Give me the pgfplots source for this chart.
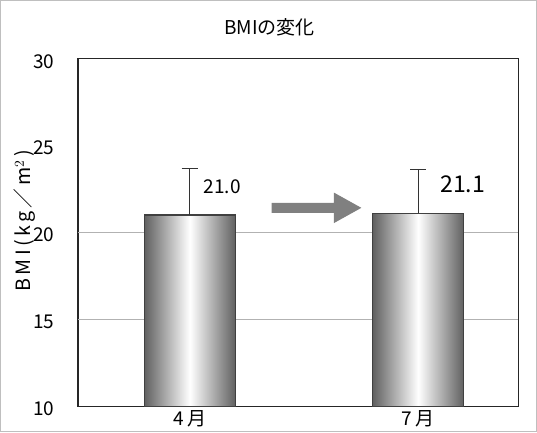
\documentclass[border=0pt]{standalone}
\usepackage{fontspec}
\setmainfont{Noto Sans CJK JP}
\usepackage{pgfplots}
\pgfplotsset{compat=1.18}
\begin{document}
\begin{tikzpicture}[x=0.75pt,y=0.75pt]
\draw[draw=gray!50, line width=0.8pt] (6,6) rectangle (532,429);
\begin{axis}[
  at={(61.5pt,23.25pt)}, anchor=south west,
  scale only axis, width=324pt, height=255.75pt,
  xmin=-0.49, xmax=1.4375, ymin=10, ymax=30,
  xtick={0,1}, xticklabels={4\,月,7\,月},
  ytick={10,15,20,25,30},
  major tick length=0pt,
  axis line style={draw=black!85, line width=0.8pt},
  /pgf/number format/assume math mode=true,
  tick label style={font=\fontsize{14}{16}\selectfont, text=black},
  yticklabel style={xshift=-14pt, yshift=-2pt},
  xticklabel style={yshift=0pt},
  clip=false,
]
\addplot[draw=gray!60, line width=0.6pt, forget plot] coordinates {(-0.49,15) (1.4375,15)};
\addplot[draw=gray!60, line width=0.6pt, forget plot] coordinates {(-0.49,20) (1.4375,20)};
\addplot[ybar, bar width=66.75pt, bar shift=0pt, draw=black!75, line width=0.8pt,
  left color=black!62, right color=black!62, middle color=white,
  error bars/.cd, y dir=plus, y explicit,
  error bar style={line width=0.8pt, black!80},
  error mark options={rotate=90, mark size=6pt, line width=0.8pt, black!80}]
  coordinates {(0,21.0) +- (0,2.65)};
\addplot[ybar, bar width=66.75pt, bar shift=0pt, draw=black!75, line width=0.8pt,
  left color=black!62, right color=black!62, middle color=white,
  error bars/.cd, y dir=plus, y explicit,
  error bar style={line width=0.8pt, black!80},
  error mark options={rotate=90, mark size=6pt, line width=0.8pt, black!80}]
  coordinates {(1,21.1) +- (0,2.5)};
\fill[gray!75!black!80] (axis cs:0.358,21.12) -- (axis cs:0.6305,21.12) -- (axis cs:0.6305,20.53)
  -- (axis cs:0.751,21.41) -- (axis cs:0.6305,22.29) -- (axis cs:0.6305,21.70) -- (axis cs:0.358,21.70) -- cycle;
\node[anchor=west, font=\fontsize{14}{16}\selectfont, text=black, inner sep=0pt] at (axis cs:0.059,22.6) {21.0};
\node[anchor=west, font=\fontsize{17}{19}\selectfont, text=black, inner sep=0pt] at (axis cs:1.095,22.76) {21.1};
\end{axis}
\node[font=\fontsize{14}{16}\selectfont, text=black] at (270,403) {BMIの変化};
\node[rotate=90, font=\fontsize{14.5}{16}\selectfont, text=black] at (30,213) {B\,M\,I\,(\,k\,g\,／\,m$^{2}$\,)};
\end{tikzpicture}
\end{document}
